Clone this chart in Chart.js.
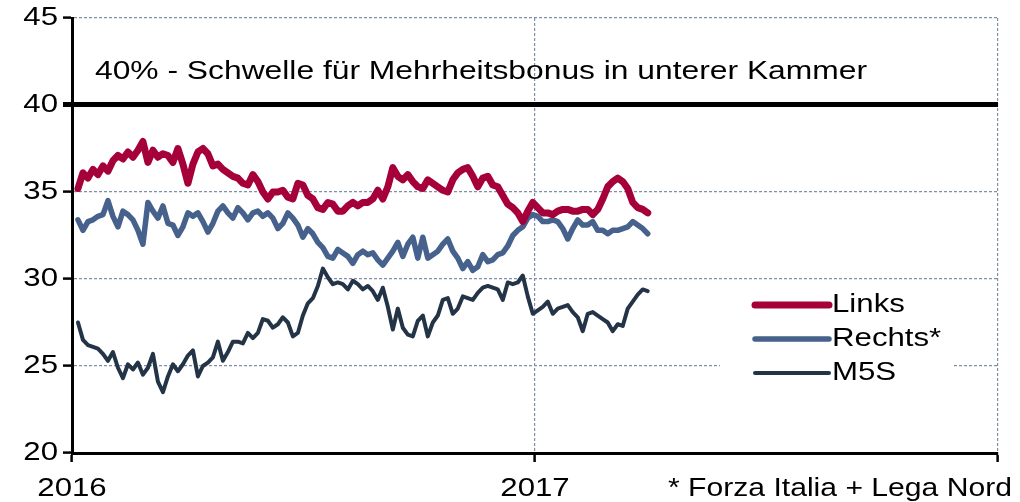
<!DOCTYPE html>
<html>
<head>
<meta charset="utf-8">
<script src="https://cdn.jsdelivr.net/npm/chart.js@4"></script>
<style>
  body { margin: 0; background: #fff; }
  #wrap { width: 1020px; height: 502px; }
</style>
</head>
<body>
<div id="wrap"><canvas id="pollChart" width="1020" height="502"></canvas></div>
<script>
// days since 1 Jan 2016, one reading roughly every 4 days
const firstDay = 4.7;
const dayStep = 3.94;

const links = [
  35.2,
  36.1, 35.8, 36.3, 36.0, 36.5, 36.2, 36.8, 37.1, 36.9, 37.3,
  37.0, 37.4, 37.9, 36.7, 37.4, 37.0, 37.2, 37.1, 36.7, 37.5,
  36.6, 35.5, 36.6, 37.3, 37.5, 37.2, 36.5, 36.6, 36.3, 36.1,
  35.9, 35.8, 35.5, 35.4, 36.0, 35.6, 35.0, 34.6, 35.0, 35.0,
  35.1, 34.7, 34.6, 35.5, 35.4, 34.8, 34.6, 34.1, 34.0, 34.4,
  34.3, 33.9, 33.9, 34.2, 34.4, 34.2, 34.4, 34.4, 34.6, 35.1,
  34.6, 35.3, 36.4, 35.9, 35.7, 36.0, 35.6, 35.3, 35.2, 35.7,
  35.5, 35.3, 35.1, 35.0, 35.7, 36.1, 36.3, 36.4, 35.9, 35.3,
  35.8, 35.9, 35.4, 35.3, 34.8, 34.3, 34.1, 33.8, 33.3, 33.9,
  34.4, 34.1, 33.8, 33.8, 33.7, 33.9, 34.0, 34.0, 33.9, 33.9,
  34.0, 34.0, 33.7, 34.0, 34.6, 35.3, 35.6, 35.8, 35.6, 35.2,
  34.4, 34.1, 34.0, 33.8
];

const rechts = [
  33.4,
  32.8, 33.3, 33.4, 33.6, 33.7, 34.5, 33.6, 33.0, 33.9, 33.7,
  33.4, 32.8, 32.0, 34.4, 33.9, 33.5, 34.2, 33.2, 33.1, 32.5,
  33.0, 33.8, 33.6, 33.8, 33.3, 32.7, 33.2, 33.9, 34.2, 33.8,
  33.5, 34.1, 33.8, 33.4, 33.8, 33.9, 33.6, 33.8, 33.5, 32.9,
  33.2, 33.8, 33.5, 33.1, 32.4, 32.9, 32.6, 32.1, 31.8, 31.3,
  31.2, 31.7, 31.5, 31.3, 30.9, 31.4, 31.6, 31.4, 31.5, 31.1,
  30.8, 31.2, 31.6, 32.1, 31.3, 32.0, 32.4, 31.2, 32.4, 31.2,
  31.4, 31.6, 32.0, 32.3, 31.6, 31.2, 30.6, 31.0, 30.5, 30.7,
  31.4, 31.0, 31.1, 31.4, 31.5, 31.9, 32.5, 32.8, 33.0, 33.5,
  33.7, 33.6, 33.3, 33.3, 33.4, 33.3, 32.9, 32.3, 32.9, 33.4,
  33.1, 33.1, 33.3, 32.8, 32.8, 32.6, 32.8, 32.8, 32.9, 33.0,
  33.3, 33.1, 32.9, 32.6
];

const m5s = [
  27.5,
  26.5, 26.2, 26.1, 26.0, 25.7, 25.3, 25.8, 24.9, 24.3, 25.1,
  24.8, 25.2, 24.5, 24.9, 25.7, 24.1, 23.5, 24.4, 25.1, 24.7,
  25.1, 25.6, 25.9, 24.4, 25.0, 25.2, 25.5, 26.4, 25.3, 25.8,
  26.4, 26.4, 26.3, 26.9, 26.6, 26.9, 27.7, 27.6, 27.2, 27.4,
  27.8, 27.5, 26.7, 26.9, 27.9, 28.6, 28.9, 29.6, 30.6, 30.1,
  29.7, 29.8, 29.7, 29.4, 29.9, 29.7, 29.4, 29.6, 29.3, 28.8,
  29.5, 28.4, 27.1, 28.3, 27.2, 26.8, 26.7, 27.6, 27.9, 26.7,
  27.5, 27.9, 28.8, 28.9, 28.0, 28.3, 29.0, 28.9, 28.8, 29.2,
  29.5, 29.6, 29.5, 29.4, 28.8, 29.8, 29.7, 29.8, 30.2, 29.0,
  28.0, 28.2, 28.4, 28.7, 28.0, 28.3, 28.4, 28.5, 28.1, 27.8,
  27.0, 28.0, 28.1, 27.9, 27.7, 27.5, 27.0, 27.4, 27.3, 28.3,
  28.7, 29.1, 29.4, 29.3
];

const yearTicks = [0, 365, 730];
const yearLabels = ["2016", "2017", ""];
const seriesNames = ["Links", "Rechts*", "M5S"];
const seriesColors = ["#a6003b", "#46618b", "#243447"];
const seriesWidths = [7, 5.5, 4];
const thresholdValue = 40;
const thresholdText = "40% - Schwelle für Mehrheitsbonus in unterer Kammer";
const footnote = "* Forza Italia + Lega Nord";

const FONT = "'Liberation Sans', Arial, sans-serif";
const gridGrey = "#7f8faa";
const STRETCH = 1.2; // the original lettering is wider than it is tall

const toPoints = (values) => values.map((v, i) => ({ x: firstDay + i * dayStep, y: v }));

// text drawn a little wider than normal, like the source picture
function wideText(ctx, text, x, y, align, scaleX) {
    ctx.save();
    ctx.translate(x, y);
    ctx.scale(scaleX || STRETCH, 1);
    ctx.textAlign = align;
    ctx.fillText(text, 0, 0);
    ctx.restore();
}

const textPlugin = {
    id: "textPlugin",
    afterDraw(chart) {
        const ctx = chart.ctx;
        ctx.save();
        ctx.font = "26px " + FONT;
        ctx.fillStyle = "#000";
        ctx.textBaseline = "middle";

        // tick labels from the scales
        const yScale = chart.scales.y;
        yScale.ticks.forEach((t) => {
            wideText(ctx, String(t.value), 58, yScale.getPixelForValue(t.value), "right");
        });
        const xScale = chart.scales.x;
        xScale.ticks.forEach((t) => {
            const label = yearLabels[yearTicks.indexOf(t.value)];
            if (label) wideText(ctx, label, xScale.getPixelForValue(t.value), 489, "center");
        });

        // threshold note
        const noteScale = 772 / ctx.measureText(thresholdText).width;
        wideText(ctx, thresholdText, 95, 72, "left", noteScale);

        // legend with white box
        ctx.fillStyle = "#fff";
        ctx.fillRect(720, 286, 232, 104);
        chart.data.datasets.forEach((ds, i) => {
            const y = 305 + i * 34;
            ctx.strokeStyle = ds.borderColor;
            ctx.lineWidth = ds.borderWidth;
            ctx.lineCap = "round";
            ctx.beginPath();
            ctx.moveTo(755, y);
            ctx.lineTo(829, y);
            ctx.stroke();
            ctx.fillStyle = "#000";
            wideText(ctx, ds.label, 832, y, "left");
        });

        const footScale = 344 / ctx.measureText(footnote).width;
        wideText(ctx, footnote, 1012, 489, "right", footScale);
        ctx.restore();
    }
};

const ctx = document.getElementById("pollChart").getContext("2d");

new Chart(ctx, {
    type: "line",
    data: {
        datasets: [links, rechts, m5s].map((values, i) => ({
            label: seriesNames[i],
            data: toPoints(values),
            borderColor: seriesColors[i],
            backgroundColor: seriesColors[i],
            borderWidth: seriesWidths[i],
            pointRadius: 0,
            tension: 0,
            borderJoinStyle: "round",
            borderCapStyle: "round",
            order: [1, 2, 0][i],
        })),
    },
    options: {
        responsive: false,
        animation: false,
        devicePixelRatio: 1,
        layout: { padding: { top: 18, right: 22, left: 0, bottom: 0 } },
        plugins: {
            legend: { display: false },
            tooltip: { enabled: false },
        },
        scales: {
            x: {
                type: "linear",
                min: 0,
                max: 730,
                afterFit: (scale) => { scale.height = 49; },
                afterBuildTicks: (scale) => {
                    scale.ticks = yearTicks.map((v) => ({ value: v }));
                },
                ticks: { display: false, autoSkip: false, maxRotation: 0 },
                grid: {
                    color: (c) => (c.tick && c.tick.value === 0 ? "rgba(0,0,0,0)" : gridGrey),
                    lineWidth: 1.2,
                    tickLength: 9,
                    tickColor: "#000",
                    tickWidth: 2.5,
                },
                border: {
                    color: "#000",
                    width: 3,
                    dash: [3, 2],
                },
            },
            y: {
                min: 20,
                max: 45,
                afterFit: (scale) => { scale.width = 72; },
                ticks: { display: false, stepSize: 5 },
                grid: {
                    color: (c) => {
                        if (!c.tick) return gridGrey;
                        if (c.tick.value === 20) return "rgba(0,0,0,0)";
                        if (c.tick.value === thresholdValue) return "#000";
                        return gridGrey;
                    },
                    lineWidth: (c) => (c.tick && c.tick.value === thresholdValue ? 5 : 1.2),
                    tickLength: 9,
                    tickColor: "#000",
                    tickWidth: (c) => (c.tick && c.tick.value === thresholdValue ? 5 : 2.5),
                },
                border: {
                    color: "#000",
                    width: 3,
                    dash: (c) => (c.tick && c.tick.value === thresholdValue ? [] : [3, 2]),
                },
            },
        },
    },
    plugins: [textPlugin],
});
</script>
</body>
</html>
